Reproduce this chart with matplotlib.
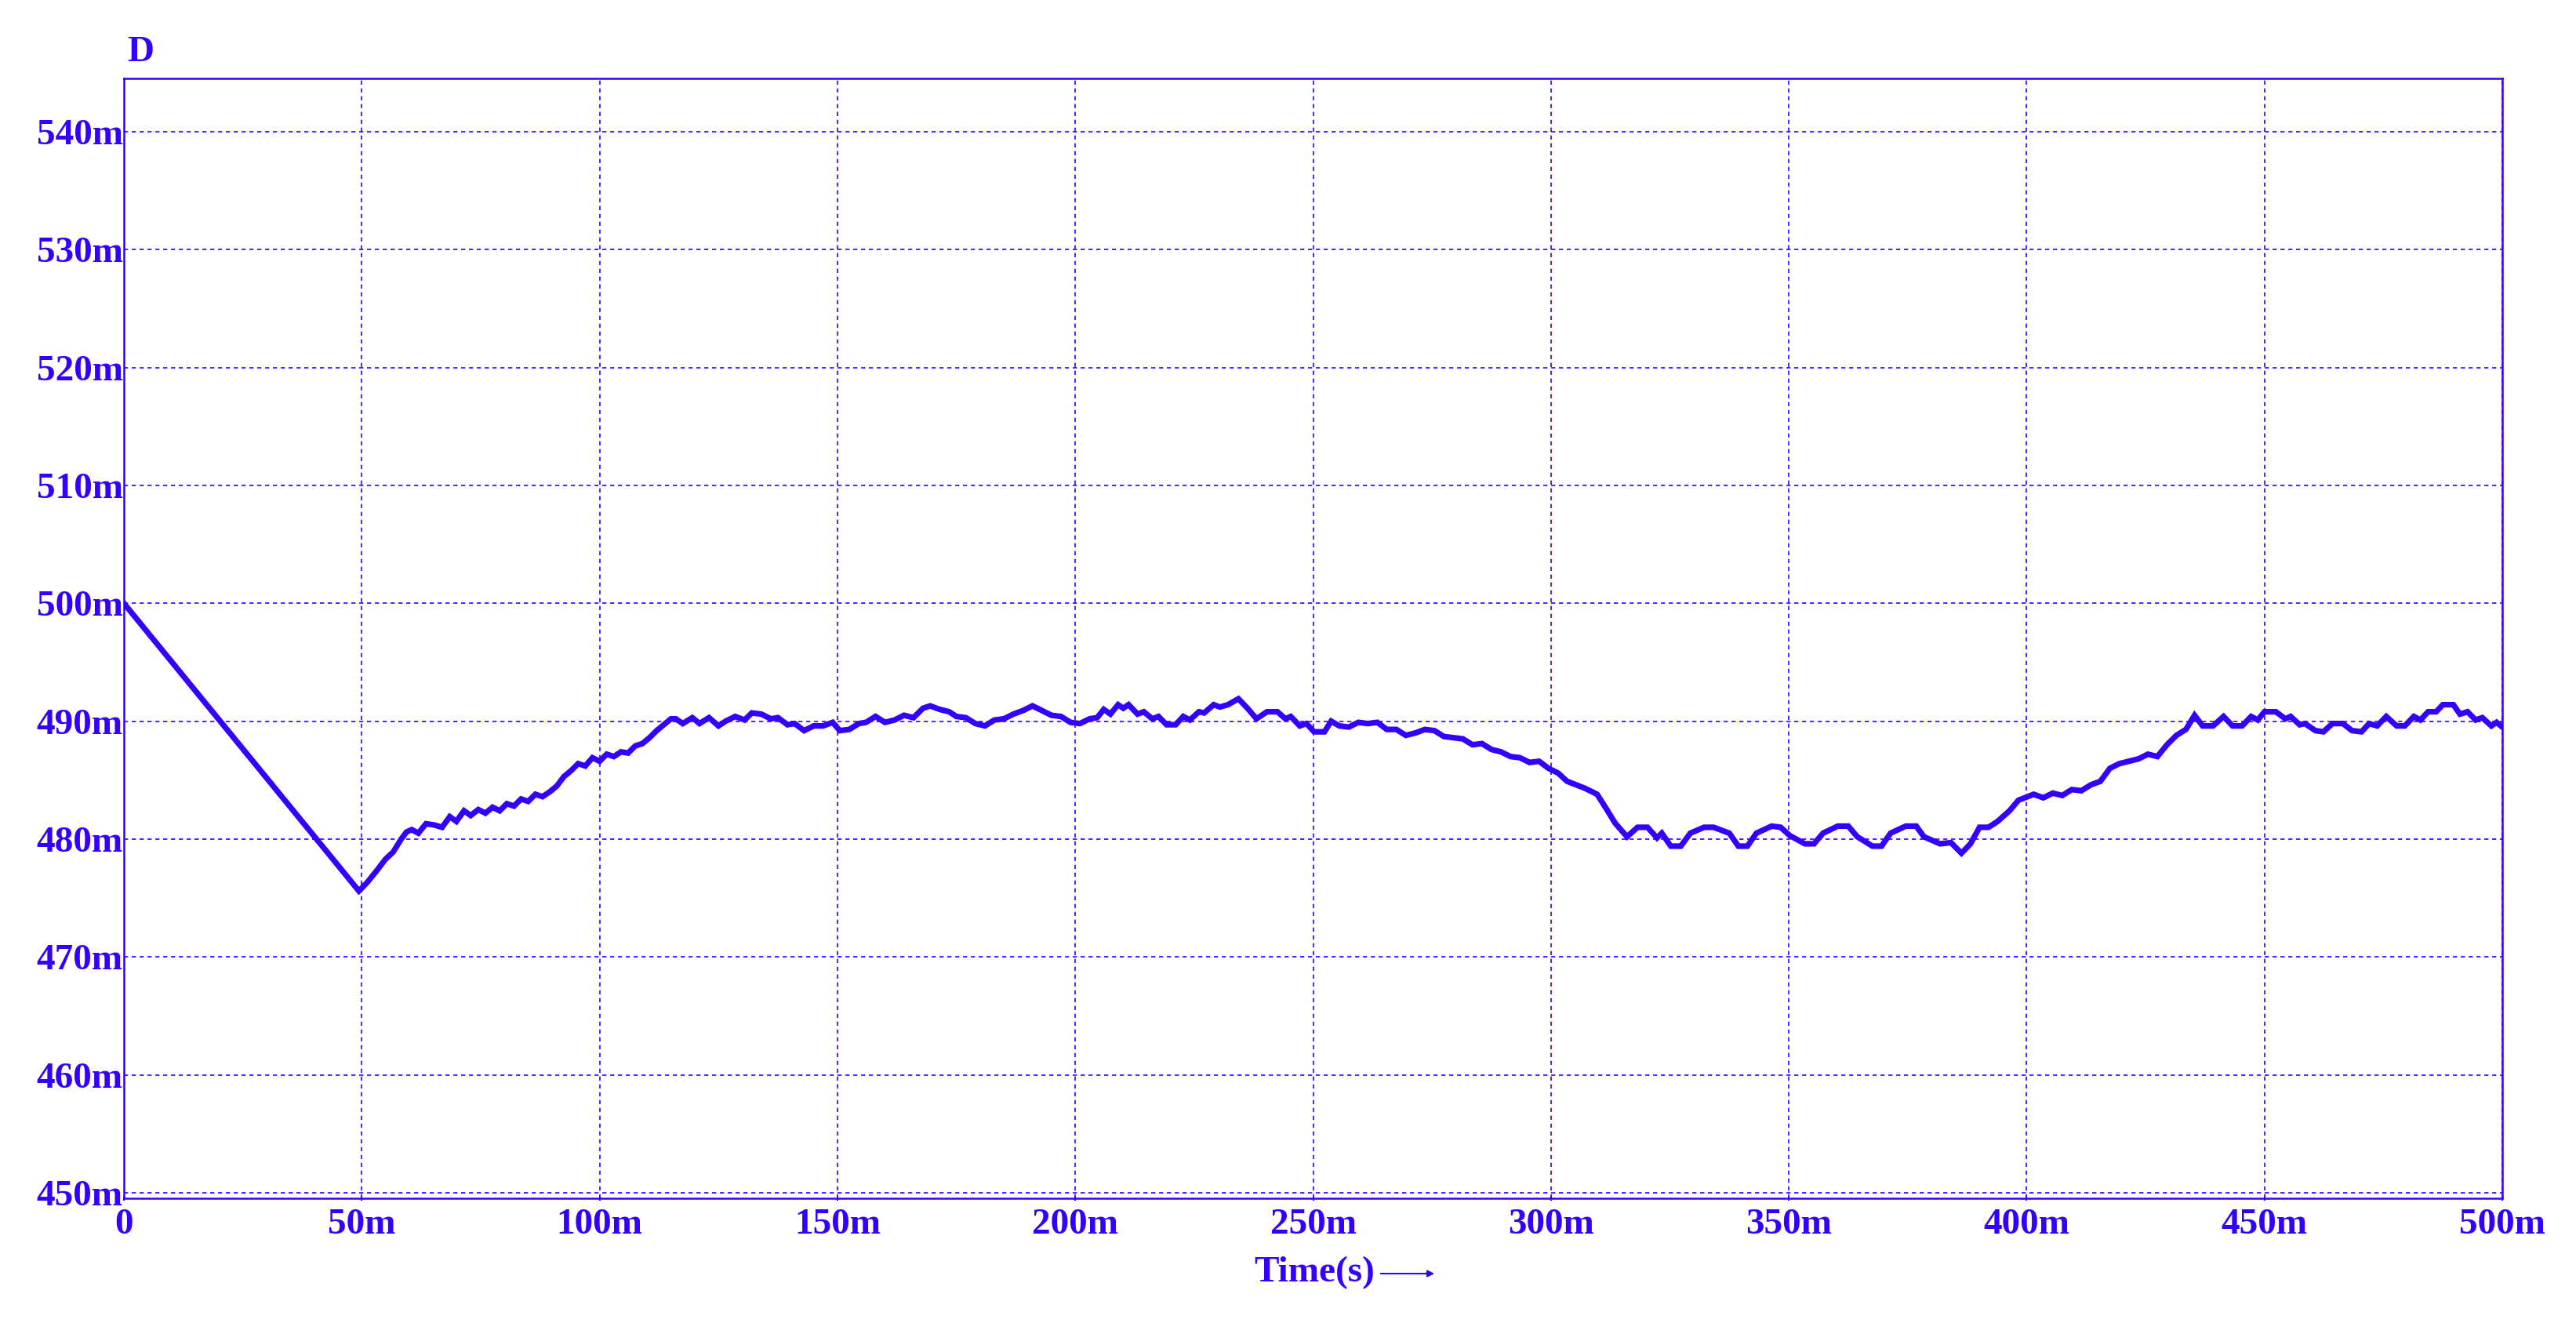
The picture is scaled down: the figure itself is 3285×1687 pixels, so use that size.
import matplotlib
matplotlib.use("Agg")
import matplotlib.pyplot as plt
from matplotlib.ticker import FuncFormatter

# Colour and font of the PSIM-like plot
BLUE = "#3300ff"
FONT = "Liberation Serif"

# time in ms, D value in milli-units
t_ms = [0, 49.4, 51.1, 53.3, 55.0, 56.6, 58.3, 59.4, 60.5, 61.9, 63.5, 65.2,
        66.9, 68.5, 69.9, 71.5, 72.9, 74.5, 76, 77.5, 79, 80.5, 82, 83.5, 85,
        86.5, 88, 89.5, 91, 92.5, 94, 95.5, 97, 98.5, 100, 101.5, 103, 104.5,
        106, 107.5, 109, 110.5, 112, 113.5, 115,
        116, 117.5, 119.5, 121, 123, 125, 126.5, 128.5, 130.5, 132, 134, 136,
        137.5, 139.5, 141, 143, 145, 147, 149, 150.5, 152.5, 154.5, 156, 158,
        160, 162, 164, 166, 168, 169.5, 171.5, 173.5, 175, 177, 179, 181, 183,
        185, 187, 189, 191, 193, 195, 197, 199, 201, 203,
        204.6, 206.0, 207.4, 209.0, 210.1, 211.2, 213.1, 214.4, 216.2, 217.5,
        219.2, 221.1, 222.7, 224.1, 226.0, 227.1, 229.1, 230.4, 232.1, 234.3,
        236.2, 238.1, 240.3, 242.5, 244.2, 245.3, 247.2, 248.6, 250.2, 252.4,
        253.8, 255.5, 257.5, 259.5, 261.5, 263.5, 265.5, 267.5, 269.5, 271.5,
        273.5, 275.5, 277.5, 279.5, 281.5, 283.5, 285.5, 287.5, 289.5, 291.5,
        293.5, 295.5, 297.5, 299.5, 301.5,
        303.4, 307.2, 309.7, 311.6, 313.5, 316.0, 318.2, 320.3, 322.3, 323.3,
        325.2, 327.3, 329.3, 332.2, 334.2, 337.5, 339.4, 341.3, 343.2, 346.4,
        348.3, 350.2, 353.4, 355.3, 357.2, 360.3, 362.5, 364.4, 367.6, 369.5,
        371.4, 374.6, 376.8, 378.4, 381.8, 384.1, 386.3, 388.2, 390.1, 392.0,
        393.9, 396.4, 398.3, 401.5, 403.5, 405.5, 407.5, 409.5, 411.5, 413.5,
        415.5, 417.5, 419.5, 421.5, 423.5, 425.5, 427.5, 429.5, 431.5, 433.5,
        435.3, 437.0, 439.2, 441.4, 443.3, 445.3, 447.2, 448.6, 450, 452.4,
        454.4, 455.5, 457.4, 458.5, 460.7, 462.4, 464.3, 466.5, 468.4, 470.4,
        472.0, 473.7, 475.6, 477.8, 479.5, 481.4, 482.8, 484.4, 486.1, 487.5,
        489.7, 491.1, 492.7, 494.4, 495.8, 497.7, 498.8, 500]
d_val = [500, 475.6, 476.3, 477.4, 478.3, 478.9, 480.0, 480.6, 480.8, 480.5,
         481.3, 481.2, 481.0, 481.9, 481.5, 482.4, 482.0, 482.5, 482.2, 482.7,
         482.4, 483.0, 482.8, 483.4, 483.2, 483.8, 483.6, 484.0, 484.5, 485.3,
         485.8, 486.4, 486.2, 486.9, 486.6, 487.2, 487.0, 487.4, 487.3, 487.9,
         488.1, 488.6, 489.2, 489.7, 490.2,
         490.2, 489.8, 490.3, 489.8, 490.3, 489.6, 490.0, 490.4, 490.1, 490.7,
         490.6, 490.2, 490.3, 489.7, 489.8, 489.2, 489.6, 489.6, 489.9, 489.2,
         489.3, 489.8, 489.9, 490.4, 489.9, 490.1, 490.5, 490.3, 491.1, 491.3,
         491.0, 490.8, 490.4, 490.3, 489.8, 489.6, 490.1, 490.2, 490.6, 490.9,
         491.3, 490.9, 490.5, 490.4, 489.9, 489.8, 490.2,
         490.3, 491.0, 490.6, 491.4, 491.1, 491.4, 490.6, 490.8, 490.2, 490.4,
         489.7, 489.7, 490.4, 490.1, 490.8, 490.7, 491.4, 491.2, 491.4, 491.9,
         491.1, 490.2, 490.8, 490.8, 490.2, 490.4, 489.6, 489.8, 489.1, 489.1,
         490.0, 489.6, 489.5, 489.9, 489.8, 489.9, 489.3, 489.3, 488.8, 489.0,
         489.3, 489.2, 488.7, 488.6, 488.5, 488.0, 488.1, 487.6, 487.4, 487.0,
         486.9, 486.5, 486.6, 486.0, 485.6,
         484.9, 484.3, 483.8, 482.6, 481.35, 480.2, 481.0, 481.0, 480.1, 480.5,
         479.4, 479.4, 480.5, 481.0, 481.0, 480.5, 479.4, 479.4, 480.5, 481.1,
         481.0, 480.3, 479.6, 479.6, 480.5, 481.1, 481.1, 480.2, 479.4, 479.4,
         480.5, 481.1, 481.1, 480.2, 479.6, 479.7, 478.8, 479.6, 481.0, 481.0,
         481.5, 482.4, 483.3, 483.8, 483.5, 483.9, 483.7, 484.2, 484.1, 484.6,
         484.9, 486.0, 486.4, 486.6, 486.8, 487.2, 487.0, 488.0, 488.8, 489.3,
         490.5, 489.6, 489.6, 490.4, 489.6, 489.6, 490.4, 490.1, 490.8, 490.8,
         490.2, 490.4, 489.7, 489.8, 489.2, 489.1, 489.8, 489.8, 489.2, 489.1,
         489.8, 489.6, 490.4, 489.6, 489.6, 490.4, 490.1, 490.8, 490.8, 491.4,
         491.4, 490.6, 490.8, 490.1, 490.3, 489.6, 489.9, 489.5]

x_ticks = list(range(0, 501, 50))
y_ticks = list(range(450, 541, 10))

t_s = [v / 1000 for v in t_ms]
d = [v / 1000 for v in d_val]


def milli(x, pos):
    n = int(round(x * 1000))
    return "0" if n == 0 else f"{n}m"


W, H = 3285, 1687
fig = plt.figure(figsize=(W / 100, H / 100), dpi=100)
ax = fig.add_axes([158 / W, 1 - 1528 / H, (3191 - 158) / W, (1528 - 100) / H])

ax.plot(t_s, d, color=BLUE, lw=5.2, solid_joinstyle="miter")

ax.set_xlim(0, 0.5)
ax.set_ylim(0.44953, 0.54452)
ax.set_xticks([v / 1000 for v in x_ticks])
ax.set_yticks([v / 1000 for v in y_ticks])
ax.xaxis.set_major_formatter(FuncFormatter(milli))
ax.yaxis.set_major_formatter(FuncFormatter(milli))

ax.grid(True, color=BLUE, lw=1.2, linestyle=(0, (3.2, 2.8)))
for s in ax.spines.values():
    s.set_color(BLUE)
    s.set_linewidth(1.8)

ax.tick_params(axis="x", colors=BLUE, length=5, width=1.4, direction="inout", pad=7)
ax.tick_params(axis="y", colors=BLUE, length=0, pad=1)
for lab in ax.get_xticklabels() + ax.get_yticklabels():
    lab.set_fontfamily(FONT)
    lab.set_fontweight("bold")
    lab.set_fontsize(34)
    lab.set_color(BLUE)

fig.text(162 / W, 1 - 78 / H, "D", color=BLUE, fontfamily=FONT, fontweight="bold",
         fontsize=34, ha="left", va="baseline")
fig.text(1676 / W, 1 - 1634 / H, "Time(s)", color=BLUE, fontfamily=FONT,
         fontweight="bold", fontsize=34, ha="center", va="baseline")
fig.add_artist(matplotlib.patches.FancyArrowPatch(
    (1758 / W, 1 - 1624 / H), (1832 / W, 1 - 1624 / H), transform=fig.transFigure,
    arrowstyle="-|>,head_length=5,head_width=2.5", color=BLUE, lw=1.5))

fig.savefig("out.png", dpi=100, facecolor="white")
